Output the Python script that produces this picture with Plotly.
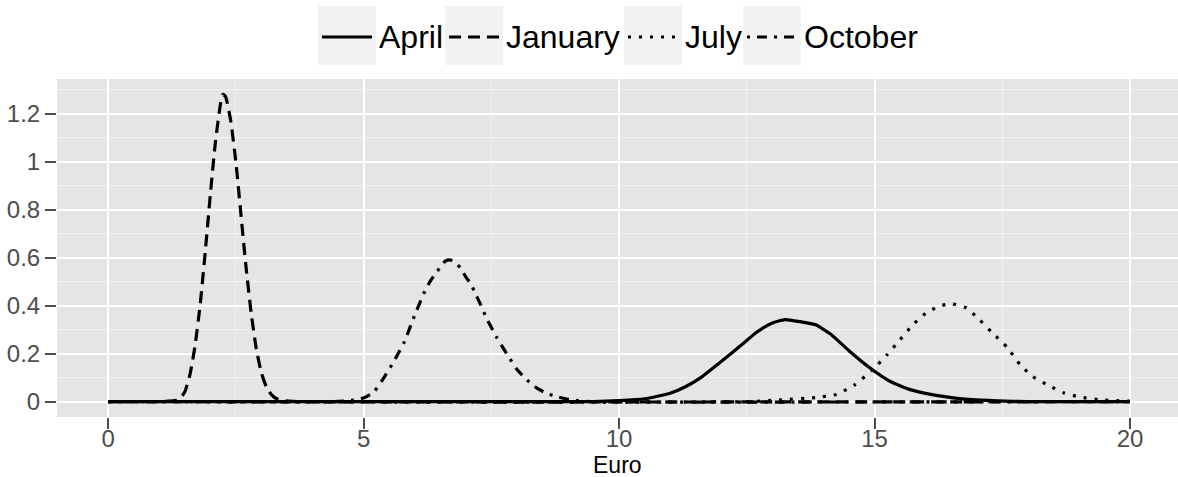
import plotly.graph_objects as go

# Density estimates of monthly prices (Euro), one curve per month
april_x = [0, 9.5, 10.0, 10.5, 11.0, 11.3, 11.6, 12.0, 12.4, 12.7, 13.0, 13.25, 13.55, 13.85,
           14.15, 14.5, 14.9, 15.3, 15.7, 16.1, 16.5, 16.9, 17.4, 18.0, 20]
april_y = [0, 0.0, 0.004, 0.012, 0.035, 0.062, 0.10, 0.167, 0.237, 0.29, 0.328, 0.342, 0.333, 0.32,
           0.28, 0.212, 0.142, 0.085, 0.05, 0.03, 0.017, 0.008, 0.003, 0.0, 0]

january_x = [0, 1.0, 1.3, 1.4, 1.5, 1.6, 1.7, 1.8, 1.9, 2.0, 2.1, 2.2, 2.25, 2.3, 2.4, 2.5,
             2.6, 2.7, 2.8, 2.9, 3.0, 3.1, 3.2, 3.3, 3.5, 3.8, 20]
january_y = [0, 0.0, 0.004, 0.012, 0.04, 0.11, 0.23, 0.40, 0.62, 0.86, 1.08, 1.24, 1.28, 1.27, 1.17, 1.0,
             0.78, 0.56, 0.37, 0.22, 0.12, 0.06, 0.028, 0.012, 0.003, 0.0, 0]

july_x = [0, 12.5, 13.15, 13.85, 14.25, 14.6, 14.95, 15.25, 15.5, 15.75, 16.0, 16.25, 16.5, 16.8,
          17.05, 17.3, 17.6, 17.85, 18.1, 18.4, 18.7, 19.0, 19.4, 20]
july_y = [0, 0.0, 0.007, 0.017, 0.03, 0.068, 0.13, 0.196, 0.258, 0.32, 0.368, 0.396, 0.408, 0.39,
          0.342, 0.288, 0.225, 0.154, 0.104, 0.068, 0.037, 0.02, 0.008, 0.002]

october_x = [0, 4.4, 4.6, 4.8, 5.0, 5.2, 5.4, 5.6, 5.8, 6.0, 6.2, 6.3, 6.4, 6.5, 6.6, 6.7, 6.8,
             6.9, 7.0, 7.1, 7.2, 7.3, 7.4, 7.5, 7.6, 7.8, 8.0, 8.2, 8.4, 8.6, 8.8, 9.0, 9.2, 9.5, 20]
october_y = [0, 0.0, 0.002, 0.006, 0.015, 0.04, 0.10, 0.17, 0.25, 0.36, 0.46, 0.50, 0.53, 0.56, 0.585,
             0.59, 0.58, 0.555, 0.52, 0.49, 0.445, 0.40, 0.35, 0.31, 0.27, 0.20, 0.135, 0.09, 0.055,
             0.033, 0.02, 0.01, 0.004, 0.0, 0]

months = ["April", "January", "July", "October"]
month_x = [april_x, january_x, july_x, october_x]
month_y = [april_y, january_y, july_y, october_y]
dashes = ["solid", "12px,7px", "3px,8px", "3px,7px,10px,7px"]

x_ticks = [0, 5, 10, 15, 20]
y_ticks = [0, 0.2, 0.4, 0.6, 0.8, 1.0, 1.2]
y_tick_text = ["0", "0.2", "0.4", "0.6", "0.8", "1", "1.2"]

FONT = "Liberation Sans, Arial, sans-serif"
W, H = 1178, 477
ML, MR, MT, MB = 57, 0, 79, 60
PW, PH = W - ML - MR, H - MT - MB

fig = go.Figure()
for name, xs, ys, d in zip(months, month_x, month_y, dashes):
    fig.add_trace(go.Scatter(x=xs, y=ys, mode="lines", name=name, showlegend=False,
                             line=dict(color="black", width=3.2, dash=d,
                                       shape="spline", smoothing=0.5)))

# Legend drawn as grey key boxes with line samples and labels above the panel
def px_x(p):
    return (p - ML) / PW

def px_y(p):
    return (H - MB - p) / PH

key_left = [318, 445, 624, 743]
key_w, key_top, key_bot, key_mid = 58, 6, 65, 37
shapes = []
annotations = []
for name, d, kl in zip(months, dashes, key_left):
    shapes.append(dict(type="rect", xref="paper", yref="paper",
                       x0=px_x(kl), x1=px_x(kl + key_w), y0=px_y(key_bot), y1=px_y(key_top),
                       fillcolor="#F2F2F2", line=dict(width=0), layer="above"))
    shapes.append(dict(type="line", xref="paper", yref="paper",
                       x0=px_x(kl + 4), x1=px_x(kl + key_w - 4), y0=px_y(key_mid), y1=px_y(key_mid),
                       line=dict(color="black", width=3, dash=d), layer="above"))
    annotations.append(dict(text=name, xref="paper", yref="paper", x=px_x(kl + key_w + 1),
                            y=px_y(key_mid), xanchor="left", yanchor="middle", showarrow=False,
                            font=dict(family=FONT, size=32, color="black")))

# x-axis title placed under the tick labels
annotations.append(dict(text="Euro", xref="paper", yref="paper", x=0.5, y=px_y(465),
                        xanchor="center", yanchor="middle", showarrow=False,
                        font=dict(family=FONT, size=23, color="black")))

axis_common = dict(
    showline=False, zeroline=False, ticks="outside", ticklen=11, tickwidth=1.5,
    tickcolor="#4D4D4D", gridcolor="white", gridwidth=2,
    tickfont=dict(family=FONT, size=24, color="#4D4D4D"),
)

fig.update_layout(
    width=W, height=H,
    margin=dict(l=ML, r=MR, t=MT, b=MB),
    paper_bgcolor="white", plot_bgcolor="#E5E5E5",
    shapes=shapes, annotations=annotations,
    xaxis=dict(range=[-1, 20.94], tickvals=x_ticks, **axis_common,
               minor=dict(tickvals=[2.5, 7.5, 12.5, 17.5], showgrid=True,
                          gridcolor="#F2F2F2", gridwidth=1, ticks=""),
               ticklabelstandoff=-11, automargin=False),
    yaxis=dict(range=[-0.064, 1.344], tickvals=y_ticks, ticktext=y_tick_text, **axis_common,
               minor=dict(tickvals=[0.1, 0.3, 0.5, 0.7, 0.9, 1.1, 1.3], showgrid=True,
                          gridcolor="#F2F2F2", gridwidth=1, ticks=""),
               automargin=False),
)

fig.write_html("out.html")
